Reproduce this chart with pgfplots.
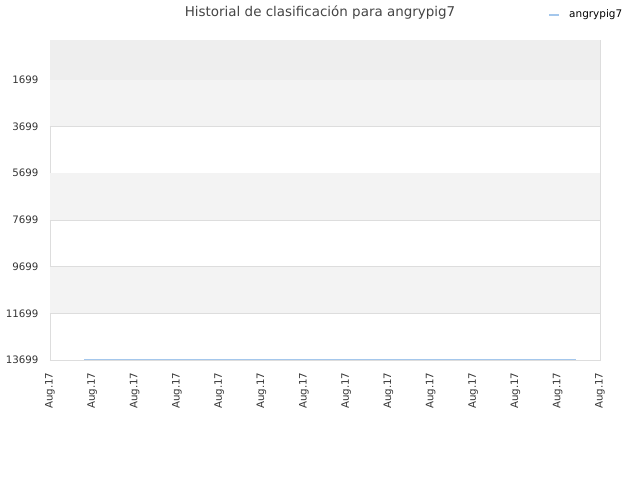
\documentclass[border=0pt]{standalone}
\usepackage{fontspec}
\setmainfont{DejaVu Sans}
\usepackage{pgfplots}
\pgfplotsset{compat=1.18}
\definecolor{gridgray}{HTML}{DDDDDD}
\definecolor{bandA}{HTML}{EEEEEE}
\definecolor{bandB}{HTML}{F3F3F3}
\definecolor{ticktext}{HTML}{333333}
\definecolor{titletext}{HTML}{444444}
\definecolor{serie}{HTML}{A4C7EC}
\begin{document}
\begin{tikzpicture}[x=1bp,y=1bp]
% lienzo de 640x480, el eje empieza en (50,360) px
\useasboundingbox (-50,-120) rectangle (590,360);
\begin{axis}[
    scale only axis,
    width=550bp, height=320bp,
    xmin=0, xmax=13,
    ymin=0, ymax=13699,
    y dir=reverse,
    scaled ticks=false,
    axis line style={gridgray},
    xtick={0,...,13},
    xticklabels={Aug.17,Aug.17,Aug.17,Aug.17,Aug.17,Aug.17,Aug.17,Aug.17,Aug.17,Aug.17,Aug.17,Aug.17,Aug.17,Aug.17},
    x tick label style={rotate=90, anchor=east, font=\fontsize{10.3}{11}\selectfont, text=ticktext},
    xticklabel shift=9bp,
    ytick={1699,3699,5699,7699,9699,11699,13699},
    y tick label style={font=\fontsize{10.3}{11}\selectfont, text=ticktext},
    yticklabel shift=8bp,
    /pgf/number format/.cd, 1000 sep={}, assume math mode=true,
    /pgfplots/.cd,
    ymajorgrids, grid style={gridgray},
    major tick length=0pt,
    axis on top=false,
]
\fill[bandA] (axis cs:0,0) rectangle (axis cs:13,1699);
\fill[bandB] (axis cs:0,1699) rectangle (axis cs:13,3699);
\fill[bandB] (axis cs:0,5699) rectangle (axis cs:13,7699);
\fill[bandB] (axis cs:0,9699) rectangle (axis cs:13,11699);
\addplot[serie, line width=0.9bp, no marks] coordinates {
    (0.8,13665) (2,13665) (4,13665) (6,13665) (8,13665) (10,13665) (12.43,13665)
};
\end{axis}
\node[text=titletext, font=\fontsize{13.5}{15}\selectfont] at (270,347) {Historial de clasificación para angrypig7};
\draw[serie, line width=2bp] (499,345) -- (509,345);
\node[anchor=west, font=\fontsize{10.5}{11}\selectfont, inner sep=0pt] at (519,345.5) {angrypig7};
\end{tikzpicture}
\end{document}
